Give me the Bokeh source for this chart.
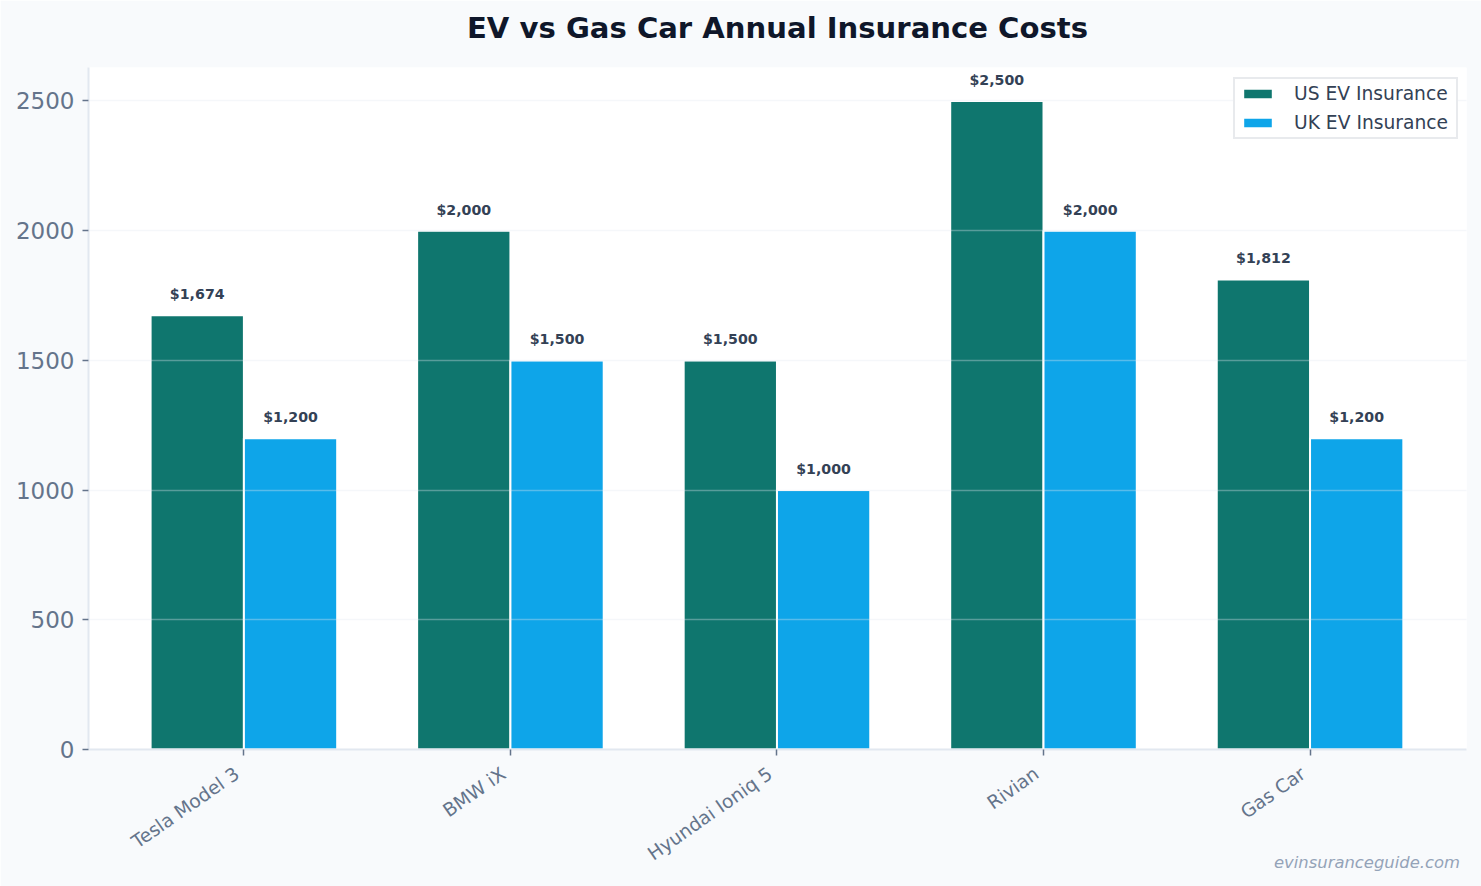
import math
from bokeh.core.properties import value
from bokeh.embed import file_html
from bokeh.models import ColumnDataSource, FixedTicker, Legend, LegendItem, LinearAxis, Range1d
from bokeh.plotting import figure
from bokeh.resources import INLINE

models = ["Tesla Model 3", "BMW iX", "Hyundai Ioniq 5", "Rivian", "Gas Car"]
us_ev = [1674, 2000, 1500, 2500, 1812]
uk_ev = [1200, 1500, 1000, 2000, 1200]
y_ticks = [0, 500, 1000, 1500, 2000, 2500]
chart_title = "EV vs Gas Car Annual Insurance Costs"
source_note = "evinsuranceguide.com"

BAR = 0.35
LABEL_SHIFT = -0.026
NOTE_X = 4.2136
X_MIN, X_MAX = -0.583, 4.587
GREEN = "#0f766e"
BLUE = "#0ea5e9"
BG = "#f8fafc"
FONT = "DejaVu Sans"

p = figure(
    width=1481, height=886, output_backend="svg", toolbar_location=None,
    x_range=Range1d(X_MIN, X_MAX), y_range=Range1d(0, 2629),
    x_axis_location=None,
    min_border_left=88, min_border_right=15, min_border_top=67, min_border_bottom=137,
    background_fill_color="#ffffff", border_fill_color=BG, outline_line_color=None,
)

# the chart title sits on a bare axis above the frame, so its height can be set freely
title_axis = LinearAxis(
    ticker=FixedTicker(ticks=[]), axis_line_color=None,
    major_tick_line_color=None, minor_tick_line_color=None, major_tick_in=0, major_tick_out=0,
    axis_label=chart_title, axis_label_standoff=23,
    axis_label_text_font=FONT, axis_label_text_font_size="29.1px", axis_label_text_font_style="bold",
    axis_label_text_color="#0f172a",
)
p.above = [title_axis]

idx = list(range(len(models)))
def make_source(values, shift):
    return ColumnDataSource(dict(
        x=[i + shift for i in idx], top=values,
        label=[f"${v:,}" for v in values],
    ))

src_us = make_source(us_ev, -BAR / 2)
src_uk = make_source(uk_ev, BAR / 2)

r_us = p.vbar(x="x", top="top", width=BAR, source=src_us, fill_color=GREEN, line_color="#ffffff", line_width=2)
r_uk = p.vbar(x="x", top="top", width=BAR, source=src_uk, fill_color=BLUE, line_color="#ffffff", line_width=2)

for src in (src_us, src_uk):
    p.text(x="x", y="top", text="label", source=src, text_align="center", text_baseline="alphabetic",
           y_offset=-21, text_font=value(FONT), text_font_size="14.2px", text_font_style="bold", text_color="#334155")

# axis next to the frame: line and tick marks only
tick_axis = LinearAxis(
    ticker=FixedTicker(ticks=idx),
    major_label_overrides={i: "" for i in idx},
    major_label_text_font_size="1px", major_label_standoff=0,
)
# axis below it: the rotated names, anchored slightly left of the ticks
label_ticks = [i + LABEL_SHIFT for i in idx]
label_axis = LinearAxis(
    ticker=FixedTicker(ticks=label_ticks),
    major_label_overrides=dict(zip(label_ticks, models)),
    major_label_orientation=math.radians(35),
    major_label_text_font=FONT, major_label_text_font_size="18.7px",
    major_label_text_color="#64748b", major_label_standoff=16,
    axis_line_color=None, major_tick_line_color=None, minor_tick_line_color=None,
    major_tick_in=0, major_tick_out=0,
)
# outermost axis: carries the source note in the bottom right corner
note_axis = LinearAxis(
    ticker=FixedTicker(ticks=[NOTE_X]),
    major_label_overrides={NOTE_X: source_note},
    major_label_standoff=-23,
    major_label_text_font=FONT, major_label_text_font_size="16.4px", major_label_text_font_style="italic",
    major_label_text_color="#94a3b8",
    axis_line_color=None, major_tick_line_color=None, minor_tick_line_color=None,
    major_tick_in=0, major_tick_out=0,
)
p.below = [tick_axis, label_axis, note_axis]

p.yaxis.ticker = FixedTicker(ticks=y_ticks)
p.yaxis.major_label_text_font = FONT
p.yaxis.major_label_text_font_size = "23px"
p.yaxis.major_label_text_color = "#64748b"
p.yaxis.major_label_standoff = 8

for ax in (tick_axis, p.yaxis[0]):
    ax.axis_line_color = "#e2e8f0"
    ax.axis_line_width = 2
    ax.major_tick_line_color = "#64748b"
    ax.major_tick_line_width = 1.5
    ax.major_tick_in = 0
    ax.major_tick_out = 6
    ax.minor_tick_line_color = None

p.xgrid.visible = False
p.ygrid.ticker = FixedTicker(ticks=y_ticks)
p.ygrid.grid_line_color = "#e2e8f0"
p.ygrid.grid_line_alpha = 0.35
p.ygrid.grid_line_width = 1.5
p.ygrid.level = "overlay"

legend = Legend(
    items=[LegendItem(label="US EV Insurance", renderers=[r_us]),
           LegendItem(label="UK EV Insurance", renderers=[r_uk])],
    location=(1145, 610), margin=0, padding=4, spacing=8,
    glyph_width=37, glyph_height=13, label_standoff=18, label_height=17, label_width=158,
    label_text_font=FONT, label_text_font_size="18.7px", label_text_color="#334155",
    background_fill_color="#ffffff", background_fill_alpha=1,
    border_line_color="#d1d5db", border_line_width=2,
)
p.add_layout(legend)

open("out.html", "w").write(file_html(p, INLINE))
